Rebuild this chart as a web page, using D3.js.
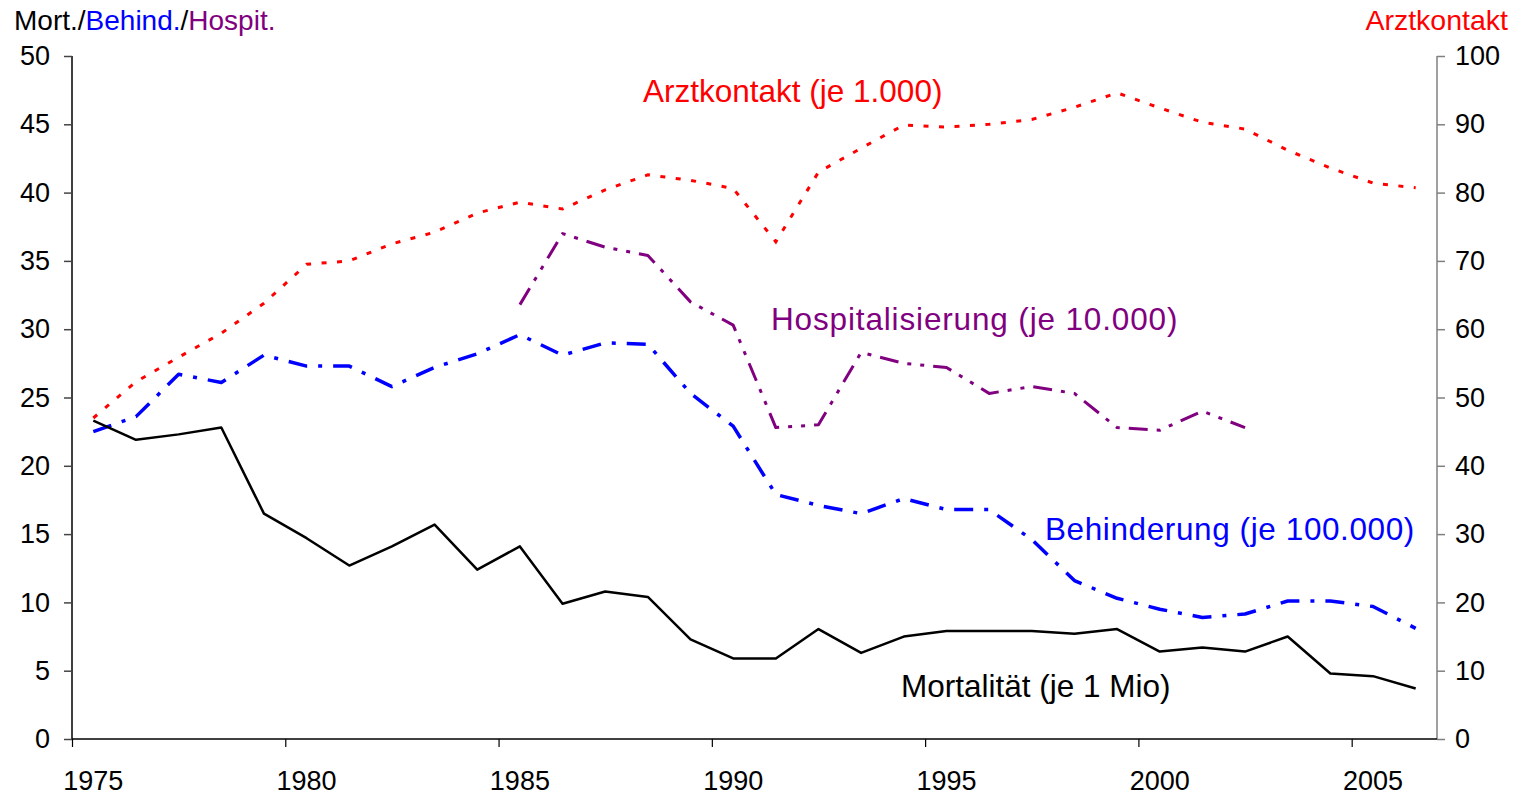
<!DOCTYPE html>
<html lang="de">
<head>
<meta charset="UTF-8">
<title>Mortalität, Behinderung, Hospitalisierung, Arztkontakt</title>
<script src="https://d3js.org/d3.v7.min.js"></script>
<style>
  body { margin: 0; background: #fff; }
  text { font-family: Arial, "Liberation Sans", sans-serif; }
  .tick-label { font-size: 27px; fill: #000; }
  .note { font-size: 31.5px; }
</style>
</head>
<body>
<svg id="chart" width="1522" height="796"></svg>
<script>
// years 1975..2006
const years = d3.range(1975, 2007);

// Mortalität (je 1 Mio) - left axis
const mortalitaet = [23.3, 21.9, 22.3, 22.8, 16.5, 14.7, 12.7, 14.1, 15.7, 12.4,
  14.1, 9.9, 10.8, 10.4, 7.3, 5.9, 5.9, 8.05, 6.3, 7.5,
  7.9, 7.9, 7.9, 7.7, 8.05, 6.4, 6.7, 6.4, 7.5, 4.8, 4.6, 3.7];

// Behinderung (je 100.000) - left axis
const behinderung = [22.5, 23.6, 26.7, 26.1, 28.1, 27.3, 27.3, 25.8, 27.2, 28.2,
  29.6, 28.1, 29.0, 28.9, 25.3, 22.9, 17.9, 17.1, 16.5, 17.6,
  16.8, 16.8, 14.6, 11.6, 10.3, 9.5, 8.9, 9.15, 10.1, 10.1, 9.7, 8.1];

// Hospitalisierung (je 10.000) - left axis, 1985..2002
const hospYears = d3.range(1985, 2003);
const hospitalisierung = [31.8, 37.0, 36.0, 35.4, 32.0, 30.3, 22.8, 23.0, 28.3, 27.5,
  27.2, 25.3, 25.8, 25.3, 22.8, 22.6, 24.0, 22.8];

// Arztkontakt (je 1.000) - right axis
const arztkontakt = [47.0, 52.3, 55.9, 59.4, 63.8, 69.5, 70.0, 72.5, 74.2, 77.0,
  78.6, 77.6, 80.4, 82.6, 81.8, 80.6, 72.8, 83.0, 86.5, 89.9,
  89.6, 90.0, 90.7, 92.5, 94.6, 92.4, 90.3, 89.3, 86.2, 83.6, 81.4, 80.7];

const leftTicks = d3.range(0, 51, 5);
const rightTicks = d3.range(0, 101, 10);
const yearLabels = [1975, 1980, 1985, 1990, 1995, 2000, 2005];

const svg = d3.select("#chart");

const x = d3.scaleLinear().domain([1974.5, 2006.5]).range([72, 1437]);
const yL = d3.scaleLinear().domain([0, 50]).range([739, 56]);
const yR = d3.scaleLinear().domain([0, 100]).range([739, 56]);

// left axis
const axL = svg.append("g").attr("transform", "translate(72,0)")
  .call(d3.axisLeft(yL).tickValues(leftTicks).tickSize(8).tickPadding(14));
axL.select(".domain").attr("stroke", "#000").attr("stroke-width", 1.5).attr("d", "M0,56V739");
axL.selectAll(".tick line").attr("stroke", "#444").attr("stroke-width", 1.5);
axL.selectAll(".tick text").attr("class", "tick-label").attr("font-size", null).attr("font-family", null);

// right axis
const axR = svg.append("g").attr("transform", "translate(1437,0)")
  .call(d3.axisRight(yR).tickValues(rightTicks).tickSize(8).tickPadding(10));
axR.select(".domain").attr("stroke", "#808080").attr("stroke-width", 1.5).attr("d", "M0,56V739");
axR.selectAll(".tick line").attr("stroke", "#808080").attr("stroke-width", 1.5);
axR.selectAll(".tick text").attr("class", "tick-label").attr("font-size", null).attr("font-family", null);

// bottom axis: ticks between categories, labels at years
const axB = svg.append("g").attr("transform", "translate(0,739)")
  .call(d3.axisBottom(x).tickValues(d3.range(1974.5, 2006, 5)).tickSize(8).tickFormat(""));
axB.select(".domain").attr("stroke", "#000").attr("stroke-width", 1.5).attr("d", "M72,0H1437");
axB.selectAll(".tick line").attr("stroke", "#000").attr("stroke-width", 1.2);

svg.append("g").selectAll("text").data(yearLabels).join("text")
  .attr("class", "tick-label")
  .attr("x", d => x(d))
  .attr("y", 790)
  .attr("text-anchor", "middle")
  .text(d => d);

// lines
const lineL = d3.line().x(d => x(d[0])).y(d => yL(d[1]));
const lineR = d3.line().x(d => x(d[0])).y(d => yR(d[1]));

svg.append("path")
  .datum(years.map((yr, i) => [yr, arztkontakt[i]]))
  .attr("d", lineR)
  .attr("fill", "none").attr("stroke", "#ff0000").attr("stroke-width", 3)
  .attr("stroke-dasharray", "5,10.5");

svg.append("path")
  .datum(hospYears.map((yr, i) => [yr, hospitalisierung[i]]))
  .attr("d", lineL)
  .attr("fill", "none").attr("stroke", "#800080").attr("stroke-width", 3)
  .attr("stroke-linejoin", "round")
  .attr("stroke-dasharray", "19,9,4,9,4,9");

svg.append("path")
  .datum(years.map((yr, i) => [yr, behinderung[i]]))
  .attr("d", lineL)
  .attr("fill", "none").attr("stroke", "#0000ff").attr("stroke-width", 3.5)
  .attr("stroke-linejoin", "round")
  .attr("stroke-dasharray", "19,11,4,11");

svg.append("path")
  .datum(years.map((yr, i) => [yr, mortalitaet[i]]))
  .attr("d", lineL)
  .attr("fill", "none").attr("stroke", "#000").attr("stroke-width", 2.5)
  .attr("stroke-linejoin", "round");

// axis titles
const t = svg.append("text").attr("x", 14).attr("y", 30).attr("font-size", 28);
t.append("tspan").attr("fill", "#000").text("Mort./");
t.append("tspan").attr("fill", "#0000ff").text("Behind.");
t.append("tspan").attr("fill", "#000").text("/");
t.append("tspan").attr("fill", "#800080").text("Hospit.");

svg.append("text").attr("x", 1508).attr("y", 30).attr("font-size", 28.5)
  .attr("text-anchor", "end").attr("fill", "#ff0000").text("Arztkontakt");

// series notes
const notes = [
  { text: "Arztkontakt (je 1.000)", x: 643, y: 102, color: "#ff0000", ls: 0 },
  { text: "Hospitalisierung (je 10.000)", x: 771, y: 330, color: "#800080", ls: 0.85 },
  { text: "Behinderung (je 100.000)", x: 1045, y: 540, color: "#0000ff", ls: 0.6 },
  { text: "Mortalität (je 1 Mio)", x: 901, y: 697, color: "#000", ls: 0 }
];
svg.append("g").selectAll("text").data(notes).join("text")
  .attr("class", "note")
  .attr("x", d => d.x).attr("y", d => d.y)
  .attr("fill", d => d.color)
  .attr("letter-spacing", d => d.ls)
  .text(d => d.text);
</script>
</body>
</html>
